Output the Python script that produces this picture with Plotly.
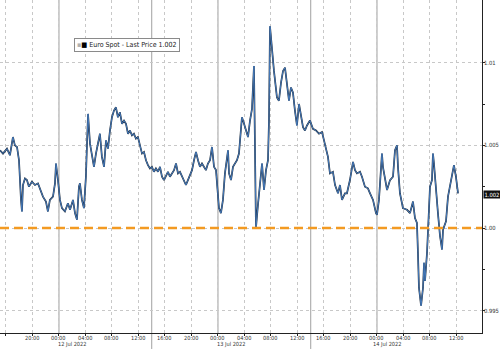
import plotly.graph_objects as go
import pandas as pd

times = [
 "2022-07-11 15:06","2022-07-11 15:33","2022-07-11 16:09","2022-07-11 16:36","2022-07-11 17:03","2022-07-11 17:21",
 "2022-07-11 17:40","2022-07-11 17:58","2022-07-11 18:16","2022-07-11 18:25","2022-07-11 18:34","2022-07-11 18:52",
 "2022-07-11 19:10","2022-07-11 19:28","2022-07-11 19:55","2022-07-11 20:23","2022-07-11 20:50","2022-07-11 21:08",
 "2022-07-11 21:35","2022-07-11 22:02","2022-07-11 22:20","2022-07-11 22:38","2022-07-11 23:06","2022-07-11 23:24",
 "2022-07-11 23:33","2022-07-11 23:51",
 "2022-07-12 00:09","2022-07-12 00:27","2022-07-12 00:54","2022-07-12 01:21","2022-07-12 01:40","2022-07-12 02:07",
 "2022-07-12 02:25","2022-07-12 02:43","2022-07-12 03:01","2022-07-12 03:10","2022-07-12 03:28","2022-07-12 03:46",
 "2022-07-12 04:04","2022-07-12 04:14","2022-07-12 04:23","2022-07-12 04:41","2022-07-12 04:59","2022-07-12 05:17",
 "2022-07-12 05:35","2022-07-12 05:53","2022-07-12 06:11","2022-07-12 06:29","2022-07-12 06:48","2022-07-12 07:06",
 "2022-07-12 07:24","2022-07-12 07:42","2022-07-12 08:00","2022-07-12 08:18","2022-07-12 08:36","2022-07-12 08:54",
 "2022-07-12 09:12","2022-07-12 09:31","2022-07-12 09:49","2022-07-12 10:07","2022-07-12 10:25","2022-07-12 10:43",
 "2022-07-12 11:01","2022-07-12 11:19","2022-07-12 11:37","2022-07-12 11:55","2022-07-12 12:14","2022-07-12 12:32",
 "2022-07-12 12:50","2022-07-12 13:08","2022-07-12 13:26","2022-07-12 13:44","2022-07-12 14:02","2022-07-12 14:20",
 "2022-07-12 14:38","2022-07-12 14:57","2022-07-12 15:15","2022-07-12 15:33","2022-07-12 15:51","2022-07-12 16:09",
 "2022-07-12 16:27","2022-07-12 16:45","2022-07-12 17:03","2022-07-12 17:22","2022-07-12 17:40","2022-07-12 17:58",
 "2022-07-12 18:16","2022-07-12 18:34","2022-07-12 18:52","2022-07-12 19:10","2022-07-12 19:28","2022-07-12 19:46",
 "2022-07-12 20:05","2022-07-12 20:23","2022-07-12 20:41","2022-07-12 20:59","2022-07-12 21:17","2022-07-12 21:35",
 "2022-07-12 21:53","2022-07-12 22:11","2022-07-12 22:29","2022-07-12 22:48","2022-07-12 23:06","2022-07-12 23:24",
 "2022-07-12 23:42","2022-07-12 23:51",
 "2022-07-13 00:09","2022-07-13 00:27","2022-07-13 00:45","2022-07-13 01:03","2022-07-13 01:31","2022-07-13 01:40",
 "2022-07-13 01:58","2022-07-13 02:16","2022-07-13 02:34","2022-07-13 02:52","2022-07-13 03:10","2022-07-13 03:28",
 "2022-07-13 03:37","2022-07-13 03:56","2022-07-13 04:14","2022-07-13 04:32","2022-07-13 04:50","2022-07-13 05:08",
 "2022-07-13 05:26","2022-07-13 05:35","2022-07-13 05:44","2022-07-13 06:02","2022-07-13 06:20","2022-07-13 06:39",
 "2022-07-13 06:57","2022-07-13 07:15","2022-07-13 07:33","2022-07-13 07:42","2022-07-13 07:51","2022-07-13 08:09",
 "2022-07-13 08:27","2022-07-13 08:54","2022-07-13 09:12","2022-07-13 09:31","2022-07-13 09:49","2022-07-13 10:07",
 "2022-07-13 10:25","2022-07-13 10:43","2022-07-13 11:01","2022-07-13 11:19","2022-07-13 11:37","2022-07-13 11:55",
 "2022-07-13 12:14","2022-07-13 12:32","2022-07-13 12:50","2022-07-13 13:08","2022-07-13 13:26","2022-07-13 13:53",
 "2022-07-13 14:20","2022-07-13 14:48","2022-07-13 15:15","2022-07-13 15:42","2022-07-13 16:09","2022-07-13 16:36",
 "2022-07-13 16:54","2022-07-13 17:21","2022-07-13 17:40","2022-07-13 18:07","2022-07-13 18:25","2022-07-13 18:43",
 "2022-07-13 19:10","2022-07-13 19:28","2022-07-13 19:55","2022-07-13 20:23","2022-07-13 20:41","2022-07-13 20:59",
 "2022-07-13 21:26","2022-07-13 21:44","2022-07-13 22:11","2022-07-13 22:38","2022-07-13 22:57","2022-07-13 23:24",
 "2022-07-13 23:51",
 "2022-07-14 00:00","2022-07-14 00:18","2022-07-14 00:36","2022-07-14 00:45","2022-07-14 00:54","2022-07-14 01:12",
 "2022-07-14 01:31","2022-07-14 01:58","2022-07-14 02:25","2022-07-14 02:43","2022-07-14 03:01","2022-07-14 03:10",
 "2022-07-14 03:28","2022-07-14 03:55","2022-07-14 04:32","2022-07-14 04:59","2022-07-14 05:26","2022-07-14 05:44",
 "2022-07-14 06:02","2022-07-14 06:11","2022-07-14 06:20","2022-07-14 06:39","2022-07-14 06:57","2022-07-14 07:06",
 "2022-07-14 07:15","2022-07-14 07:33","2022-07-14 07:42","2022-07-14 08:00","2022-07-14 08:18","2022-07-14 08:27",
 "2022-07-14 08:36","2022-07-14 08:54","2022-07-14 09:12","2022-07-14 09:31","2022-07-14 09:49","2022-07-14 09:58",
 "2022-07-14 10:25","2022-07-14 10:43","2022-07-14 11:01","2022-07-14 11:19","2022-07-14 11:37","2022-07-14 11:55",
 "2022-07-14 12:14",
]

prices = [
 1.0047,1.0045,1.0048,1.0044,1.0055,1.0050,
 1.0049,1.0041,1.0017,1.0010,1.0026,1.0030,
 1.0029,1.0025,1.0028,1.0026,1.0027,1.0024,
 1.0019,1.0016,1.0010,1.0017,1.0019,1.0027,
 1.0039,1.0029,
 1.0017,1.0012,1.0010,1.0015,1.0011,1.0017,
 1.0009,1.0005,1.0025,1.0027,1.0017,1.0012,
 1.0031,1.0051,1.0069,1.0051,1.0043,1.0037,
 1.0045,1.0051,1.0057,1.0043,1.0037,1.0053,
 1.0048,1.0059,1.0067,1.0071,1.0073,1.0067,
 1.0070,1.0063,1.0065,1.0063,1.0057,1.0059,
 1.0056,1.0057,1.0054,1.0055,1.0049,1.0045,
 1.0046,1.0041,1.0038,1.0036,1.0037,1.0034,
 1.0036,1.0034,1.0037,1.0031,1.0029,1.0032,
 1.0034,1.0031,1.0033,1.0035,1.0039,1.0033,
 1.0034,1.0031,1.0029,1.0026,1.0029,1.0032,
 1.0035,1.0041,1.0046,1.0041,1.0037,1.0039,
 1.0037,1.0035,1.0039,1.0041,1.0049,1.0037,
 1.0035,1.0025,
 1.0012,1.0009,1.0017,1.0033,1.0047,1.0033,
 1.0029,1.0037,1.0039,1.0041,1.0045,1.0057,
 1.0067,1.0063,1.0059,1.0055,1.0065,1.0072,
 1.0098,1.0047,1.0000,1.0014,1.0026,1.0039,
 1.0023,1.0035,1.0041,1.0065,1.0122,1.0106,
 1.0095,1.0079,1.0077,1.0088,1.0095,1.0097,
 1.0085,1.0077,1.0085,1.0082,1.0071,1.0062,
 1.0075,1.0067,1.0061,1.0059,1.0062,1.0065,
 1.0060,1.0059,1.0057,1.0058,1.0051,1.0043,
 1.0033,1.0034,1.0026,1.0021,1.0026,1.0017,
 1.0021,1.0021,1.0029,1.0040,1.0035,1.0033,
 1.0034,1.0031,1.0025,1.0024,1.0021,1.0017,
 1.0009,
 1.0008,1.0017,1.0032,1.0045,1.0037,1.0029,
 1.0023,1.0029,1.0031,1.0047,1.0050,1.0037,
 1.0021,1.0012,1.0011,1.0009,1.0016,1.0006,
 1.0003,0.9985,0.9964,0.9953,0.9964,0.9979,
 0.9968,0.9985,0.9997,1.0025,1.0029,1.0045,
 1.0039,1.0021,1.0009,0.9995,0.9987,0.9999,
 1.0004,1.0019,1.0025,1.0031,1.0038,1.0031,
 1.0021,
]

ref_level = 1.00
last_price = 1.002
series_name = "Euro Spot - Last Price"

y_tickvals = [0.995, 1.00, 1.005, 1.01]
y_ticktext = ["0.995", "1.00", "1.005", "1.01"]
y_minor = [0.9975, 1.0025, 1.0075]

x_range = ["2022-07-11 15:06", "2022-07-14 15:51"]
x_tick_times = pd.date_range("2022-07-11 16:00", "2022-07-14 12:00", freq="4h")
x_ticktext = ["" if i == 0 else t.strftime("%H:%M") for i, t in enumerate(x_tick_times)]
day_lines = ["2022-07-12 00:00", "2022-07-13 00:00", "2022-07-14 00:00"]
session_lines = ["2022-07-12 14:00", "2022-07-13 14:00"]
date_labels = [("2022-07-12 02:00", "12 Jul 2022"), ("2022-07-13 02:00", "13 Jul 2022"), ("2022-07-14 01:30", "14 Jul 2022")]

FONT = "Liberation Sans Narrow, DejaVu Sans Condensed, Arial Narrow, sans-serif"

t = pd.to_datetime(times)

fig = go.Figure()
fig.add_trace(go.Scatter(x=t, y=prices, mode="lines", line=dict(color="#1e2a38", width=1.7),
                         showlegend=False, hoverinfo="skip"))
fig.add_trace(go.Scatter(x=t, y=prices, mode="lines", line=dict(color="#4a82c8", width=0.9),
                         name=series_name, showlegend=False))

shapes = []
for d in day_lines:
    shapes.append(dict(type="line", xref="x", yref="paper", x0=d, x1=d, y0=0, y1=1,
                       line=dict(color="#a0a0a0", width=1), layer="below"))
for d in session_lines:
    shapes.append(dict(type="line", xref="x", yref="paper", x0=d, x1=d, y0=-0.048, y1=1,
                       line=dict(color="#a0a0a0", width=1), layer="below"))
shapes.append(dict(type="line", xref="paper", yref="y", x0=0, x1=1, y0=ref_level, y1=ref_level,
                   line=dict(color="#f39a22", width=2.6, dash="9px,5px"), layer="above"))

annotations = []
for xv, txt in zip(x_tick_times, x_ticktext):
    if txt:
        annotations.append(dict(x=xv, xref="x", y=0, yref="paper", text=txt, showarrow=False,
                                xanchor="center", yanchor="top", yshift=-1, borderpad=0,
                                font=dict(size=5.6, color="#333333", family=FONT)))
for xd, txt in date_labels:
    annotations.append(dict(x=xd, xref="x", y=-16 / 333, yref="paper", text=txt, showarrow=False,
                            xanchor="center", yanchor="bottom", borderpad=0,
                            font=dict(size=5.6, color="#333333", family=FONT)))
for v, txt in zip(y_tickvals, y_ticktext):
    annotations.append(dict(x=1, xref="paper", y=v, yref="y", text=txt, showarrow=False,
                            xanchor="left", yanchor="middle", xshift=1, borderpad=0,
                            font=dict(size=5.8, color="#333333", family=FONT)))
annotations.append(dict(x=1, xref="paper", y=last_price, yref="y", text=f"{last_price:.3f}",
                        showarrow=False, xanchor="left", yanchor="middle", xshift=1,
                        bgcolor="#111111", borderpad=0.5,
                        font=dict(size=5.8, color="white", family=FONT)))
annotations.append(dict(x=74 / 482, xref="paper", y=1 - 38 / 333, yref="paper",
                        text="<span style='color:#b0b0b0'>▪</span><span style='color:#000'>■</span> "
                             f"{series_name} {last_price:.3f}",
                        showarrow=False, xanchor="left", yanchor="top",
                        bgcolor="white", bordercolor="#8a8a8a", borderwidth=1, borderpad=2,
                        font=dict(size=7, color="#222222", family=FONT)))

fig.update_layout(
    width=500, height=349,
    margin=dict(l=0, r=18, t=0, b=16),
    paper_bgcolor="white", plot_bgcolor="white",
    showlegend=False,
    shapes=shapes, annotations=annotations,
    xaxis=dict(range=x_range, tickvals=x_tick_times, showticklabels=False,
               showgrid=True, gridcolor="#c8c8c8", griddash="dot", gridwidth=1,
               showline=True, linecolor="#222222", linewidth=1,
               ticks="outside", ticklen=2, tickcolor="#222222",
               zeroline=False, automargin=False),
    yaxis=dict(side="right", range=[0.99365, 1.01379], tickvals=y_tickvals, showticklabels=False,
               showgrid=True, gridcolor="#c8c8c8", griddash="dot", gridwidth=1,
               showline=True, linecolor="#222222", linewidth=1,
               ticks="outside", ticklen=2, tickcolor="#222222",
               minor=dict(tickvals=y_minor, ticks="outside", ticklen=2, tickcolor="#222222", showgrid=False),
               zeroline=False, automargin=False),
)

fig.write_html("out.html")
